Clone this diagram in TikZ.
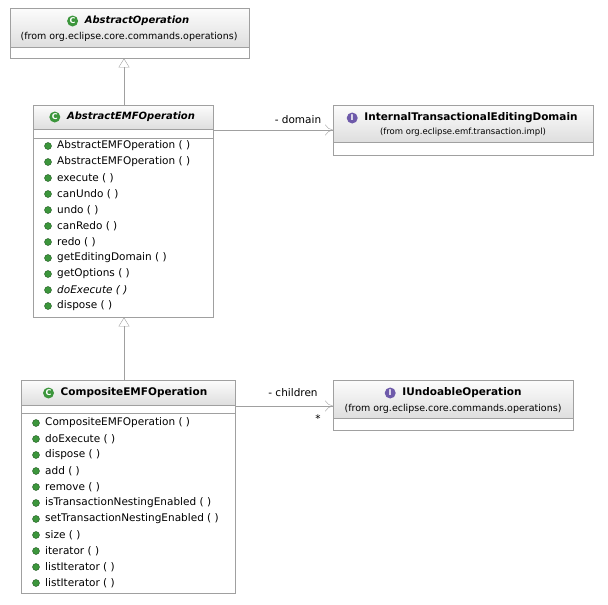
\documentclass[tikz,border=0pt]{standalone}
\usepackage{fontspec}
\setmainfont{DejaVu Sans}
\usetikzlibrary{arrows.meta,positioning}
\definecolor{boxline}{RGB}{160,160,160}
\definecolor{icongreen}{RGB}{60,150,60}
\definecolor{iconpurple}{RGB}{110,90,170}
\definecolor{hdtop}{RGB}{252,252,252}
\definecolor{hdbot}{RGB}{222,222,222}

\begin{document}
\begin{tikzpicture}[
    x=1pt, y=-1pt,
    font=\fontsize{10.5}{12}\selectfont,
    class box/.style={rectangle,draw=boxline,fill=white,anchor=north west,inner sep=0pt},
    head box/.style={rectangle,top color=hdtop,bottom color=hdbot,draw=boxline,anchor=north west,inner sep=0pt},
    class icon/.style={circle,fill=icongreen,inner sep=0pt,minimum size=11pt,text=white,font=\fontsize{8}{8}\bfseries\selectfont},
    iface icon/.style={class icon,fill=iconpurple},
    meth icon/.style={circle,fill=icongreen,draw=icongreen!60!black,inner sep=0pt,minimum size=7pt},
    meth/.style={anchor=west,inner sep=0pt},
    from text/.style={font=\fontsize{9.5}{11}\selectfont},
    head text/.style={font=\fontsize{10.5}{12}\bfseries\selectfont},
    inherit/.style={draw=boxline,-{Triangle[open,length=9pt,width=11pt]},fill=white},
    assoc/.style={draw=boxline,-{To[length=8pt,width=11pt]}}
]
\useasboundingbox (0,0) rectangle (608,605);

% AbstractOperation
\node[class box,minimum width=239pt,minimum height=50pt] (aop) at (10,8) {};
\node[head box,minimum width=239pt,minimum height=39pt] (aophd) at (10,8) {};
\node[head text,font=\bfseries\itshape] (aopname) at (137,21) {AbstractOperation};
\node[class icon,left=3pt of aopname] (aopicon) {C};
\node[from text] (aopfrom) at (129,37) {(from org.eclipse.core.commands.operations)};

% AbstractEMFOperation
\node[class box,minimum width=180pt,minimum height=212pt] (aemf) at (33,105) {};
\node[head box,minimum width=180pt,minimum height=24pt] (aemfhd) at (33,105) {};
\node[head text,font=\bfseries\itshape] (aemfname) at (131,117) {AbstractEMFOperation};
\node[class icon,left=3pt of aemfname] (aemficon) {C};
\draw[boxline] (33,138) -- (213,138);
\foreach \t [count=\i] in {AbstractEMFOperation ( ),AbstractEMFOperation ( ),execute ( ),canUndo ( ),undo ( ),canRedo ( ),redo ( ),getEditingDomain ( ),getOptions ( ),\textit{doExecute ( )},dispose ( )}
{
  \node[meth icon] (aemfi\i) at (48,130+16*\i) {};
  \node[meth] (aemfm\i) at (57,130+16*\i) {\t};
}

% InternalTransactionalEditingDomain
\node[class box,minimum width=260pt,minimum height=50pt] (itd) at (333,105) {};
\node[head box,minimum width=260pt,minimum height=37pt] (itdhd) at (333,105) {};
\node[head text] (itdname) at (471,118) {InternalTransactionalEditingDomain};
\node[iface icon,left=3pt of itdname] (itdicon) {I};
\node[font=\fontsize{8.5}{10}\selectfont] (itdfrom) at (463,132) {(from org.eclipse.emf.transaction.impl)};

% CompositeEMFOperation
\node[class box,minimum width=214pt,minimum height=213pt] (cemf) at (21,380) {};
\node[head box,minimum width=214pt,minimum height=25pt] (cemfhd) at (21,380) {};
\node[head text] (cemfname) at (134,393) {CompositeEMFOperation};
\node[class icon,left=3pt of cemfname] (cemficon) {C};
\draw[boxline] (21,413) -- (235,413);
\foreach \t [count=\i] in {CompositeEMFOperation ( ),doExecute ( ),dispose ( ),add ( ),remove ( ),isTransactionNestingEnabled ( ),setTransactionNestingEnabled ( ),size ( ),iterator ( ),listIterator ( ),listIterator ( )}
{
  \node[meth icon] (cemfi\i) at (36,407+16*\i) {};
  \node[meth] (cemfm\i) at (45,407+16*\i) {\t};
}

% IUndoableOperation
\node[class box,minimum width=240pt,minimum height=50pt] (iuo) at (333,380) {};
\node[head box,minimum width=240pt,minimum height=38pt] (iuohd) at (333,380) {};
\node[head text] (iuoname) at (462,393) {IUndoableOperation};
\node[iface icon,left=3pt of iuoname] (iuoicon) {I};
\node[from text] (iuofrom) at (453,409) {(from org.eclipse.core.commands.operations)};

% Arrows
\coordinate (aemftop) at (124,105);
\coordinate (cemftop) at (124,380);
\draw[inherit] (aemftop) -- (aemftop |- aop.south);
\draw[inherit] (cemftop) -- (cemftop |- aemf.south);
\draw[assoc] (aemf.east |- 0,130) -- (itd.west |- 0,130);
\draw[assoc] (cemf.east |- 0,406) -- (iuo.west |- 0,406);

% Role labels
\node (domain) at (298,120) {- domain};
\node (children) at (293,393) {- children};
\node (mult) at (318,419) {*};

\end{tikzpicture}
\end{document}
